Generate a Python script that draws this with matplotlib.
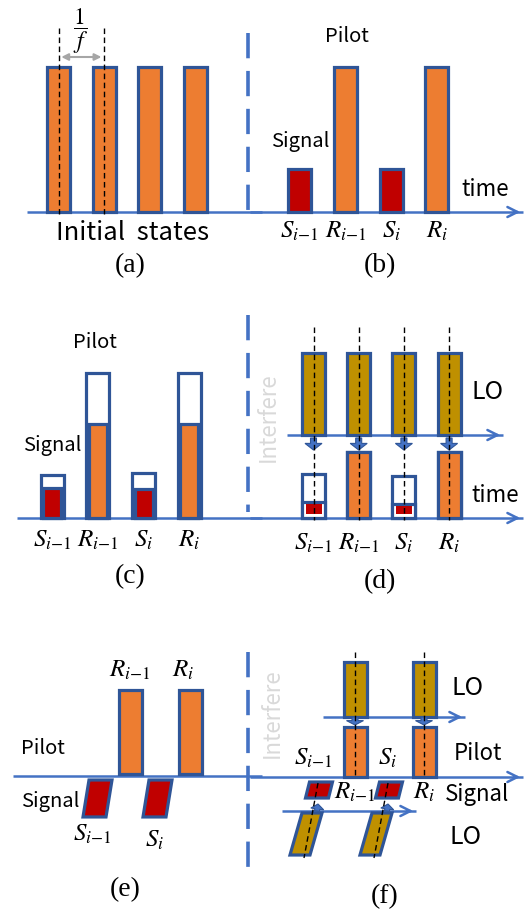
import numpy as np
import matplotlib.pyplot as plt
from matplotlib.patches import Rectangle, Polygon, FancyArrow

plt.rcParams['mathtext.fontset'] = 'stix'
plt.rcParams['font.family'] = ['Noto Sans CJK SC', 'DejaVu Sans']

# Dados do diagrama (amplitudes relativas ao pulso piloto)
slot_labels = [r'$S_{i{-}1}$', r'$R_{i{-}1}$', r'$S_i$', r'$R_i$']
panel_labels = ['(a)', '(b)', '(c)', '(d)', '(e)', '(f)']
amp_initial = [1.0, 1.0, 1.0, 1.0]          # (a) estados iniciais
amp_sent = [0.30, 1.0, 0.30, 1.0]           # (b) sinal / piloto
amp_rx_total = [0.30, 1.0, 0.31, 1.0]       # (c) contorno recebido
amp_rx_kept = [0.21, 0.65, 0.20, 0.645]     # (c) parte preenchida
amp_lo_d = [1.0, 1.0, 1.0, 1.0]             # (d) LO
amp_d_total = [0.54, 0.80, 0.51, 0.80]      # (d) contorno
amp_d_kept = [0.19, 0.80, 0.17, 0.80]       # (d) parte preenchida
amp_pilot_e = [1.0, 1.0]                    # (e) R_{i-1}, R_i
amp_signal_e = [0.44, 0.44]                 # (e) S_{i-1}, S_i

ORANGE, RED, GOLD = '#ED7D31', '#C00000', '#BF9000'
EDGE, AXBLUE, GREY = '#2F5597', '#4472C4', '#D9D9D9'

fig = plt.figure(figsize=(5.25, 9.11), dpi=100)
ax = fig.add_axes([0, 0, 1, 1])
ax.set_xlim(0, 525), ax.set_ylim(911, 0)
ax.axis('off')


def bar(xc, base, h, fc, w=23, z=3):
    ax.add_patch(Rectangle((xc - w/2, base - h), w, h, fc=fc, ec=EDGE, lw=2.3, zorder=z))


def para(xc, top, h, slant, fc, w=23, z=3):
    pts = [(xc - w/2 + slant/2, top), (xc + w/2 + slant/2, top),
           (xc + w/2 - slant/2, top + h), (xc - w/2 - slant/2, top + h)]
    ax.add_patch(Polygon(pts, closed=True, fc=fc, ec=EDGE, lw=2.3, zorder=z))


def axis_arrow(x0, x1, y, head=True):
    ax.plot([x0, x1], [y, y], color=AXBLUE, lw=1.8, zorder=2, solid_capstyle='butt')
    if head:
        ax.annotate('', xy=(x1, y), xytext=(x1 - 12, y),
                    arrowprops=dict(arrowstyle='->', color=AXBLUE, lw=1.8, mutation_scale=18))


def divider(y0, y1):
    ax.plot([248, 248], [y0, y1], color=AXBLUE, lw=2.6, dashes=(7, 3.5), zorder=1)


def vdash(x, y0, y1):
    ax.plot([x, x], [y0, y1], color='k', lw=1.0, dashes=(4, 2.5), zorder=5)


def down_arrow(x, y, d):
    ax.add_patch(FancyArrow(x, y, 0, d, width=6, head_width=17, head_length=abs(d)*0.55,
                            length_includes_head=True, fc=AXBLUE, ec=EDGE, lw=0.8, zorder=4))


def sans(x, y, s, size=14, **kw):
    ax.text(x, y, s, fontsize=size, ha='center', va='center', **kw)


def math(x, y, s, size=18):
    ax.text(x, y, s, fontsize=size, ha='center', va='center')


def cap(x, y, s):
    ax.text(x, y, s, fontsize=20, ha='center', va='center', family='Liberation Serif')


full = 145

# (a)
xa = 58.5 + 45.7*np.arange(4)
axis_arrow(27, 262, 212, head=False)
for x, a in zip(xa, amp_initial):
    bar(x, 212, full*a, ORANGE)
vdash(xa[0], 28, 214), vdash(xa[1], 28, 214)
ax.annotate('', xy=(xa[0], 57), xytext=(xa[1], 57),
            arrowprops=dict(arrowstyle='<|-|>', color='#A6A6A6', lw=1.5, mutation_scale=10))
math(81, 31, r'$\dfrac{1}{f}$', 17)
sans(133, 233, 'Initial  states', 18.5)
cap(130, 266, panel_labels[0])
divider(33, 214)

# (b)
xb = 299.5 + 45.8*np.arange(4)
axis_arrow(250, 523, 212)
for x, a, c in zip(xb, amp_sent, [RED, ORANGE, RED, ORANGE]):
    bar(x, 212, full*a, c)
for x, s in zip(xb, slot_labels):
    math(x, 231, s)
sans(347, 37, 'Pilot', 14.5)
sans(300, 141, 'Signal', 14.5)
sans(485, 190, 'time', 16)
cap(380, 266, panel_labels[1])

# (c)
xc = 52 + 45.8*np.arange(4)
axis_arrow(17, 262, 518, head=False)
for x, t, k, c in zip(xc, amp_rx_total, amp_rx_kept, [RED, ORANGE, RED, ORANGE]):
    bar(x, 518, full*t, 'white')
    bar(x, 518, full*k, c, w=18, z=4)
for x, s in zip(xc, slot_labels):
    math(x, 540, s)
sans(95, 343, 'Pilot', 14.5)
sans(52, 445, 'Signal', 14.5)
cap(130, 577, panel_labels[2])
divider(315, 512)

# (d)
xd = 313.5 + 45.2*np.arange(4)
axis_arrow(250, 523, 518)
axis_arrow(287, 503, 435)
for x, a in zip(xd, amp_lo_d):
    bar(x, 435, 82*a, GOLD)
    down_arrow(x, 438, 12)
for x, t, k, c in zip(xd, amp_d_total, amp_d_kept, [RED, ORANGE, RED, ORANGE]):
    bar(x, 518, 82*t, 'white')
    if c == RED:
        bar(x, 518, 82*k, 'white', z=4)
        ax.add_patch(Rectangle((x - 8, 518 - 82*k + 2), 16, 82*k - 6, fc=RED, ec='none', zorder=5))
    else:
        bar(x, 518, 82*k, c, z=4)
    vdash(x, 327, 520)
for x, s in zip(xd, slot_labels):
    math(x, 543, s)
sans(488, 392, 'LO', 18)
sans(495, 496, 'time', 16)
sans(268, 417, 'Interfere', 16, rotation=90, color=GREY)
cap(380, 582, panel_labels[3])

# (e)
xr_e = [130.5, 190.5]
xs_e = [97.5, 157.5]
axis_arrow(13, 262, 776, head=False)
for x, a in zip(xr_e, amp_pilot_e):
    bar(x, 774, 84*a, ORANGE)
for x, a in zip(xs_e, amp_signal_e):
    para(x, 780, 84*a, 6, RED)
math(130, 670, slot_labels[1]), math(183, 670, slot_labels[3])
math(92, 834, slot_labels[0]), math(155, 840, slot_labels[2])
sans(43, 748, 'Pilot', 14.5)
sans(50, 802, 'Signal', 14.5)
cap(125, 890, panel_labels[4])
divider(652, 872)

# (f)
xr_f = [355, 424]
xs_f = [319, 389]
axis_arrow(250, 523, 777)
axis_arrow(323, 465, 717)
axis_arrow(282, 416, 811)
for x in xr_f:
    bar(x, 717, 55, GOLD)
    bar(x, 777, 50, ORANGE)
    down_arrow(x, 717, 8)
    vdash(x, 652, 778)
for x in xs_f:
    para(x, 782, 16, 4, RED)
    para(x - 13, 813, 42, 12, GOLD, w=20)
    ax.add_patch(FancyArrow(x - 2, 811, 1, -7, width=5, head_width=13, head_length=5,
                            length_includes_head=True, fc=AXBLUE, ec=EDGE, lw=0.8, zorder=4))
    ax.plot([x - 1, x - 15], [783, 858], color='k', lw=1.0, dashes=(4, 2.5), zorder=5)
math(313, 758, slot_labels[0]), math(388, 758, slot_labels[2])
math(355, 792, slot_labels[1]), math(424, 792, slot_labels[3])
sans(468, 688, 'LO', 18)
sans(478, 753, 'Pilot', 16)
sans(477, 795, 'Signal', 16)
sans(466, 837, 'LO', 18)
sans(272, 713, 'Interfere', 16, rotation=90, color=GREY)
cap(385, 897, panel_labels[5])

fig.savefig('out.png', dpi=100)
